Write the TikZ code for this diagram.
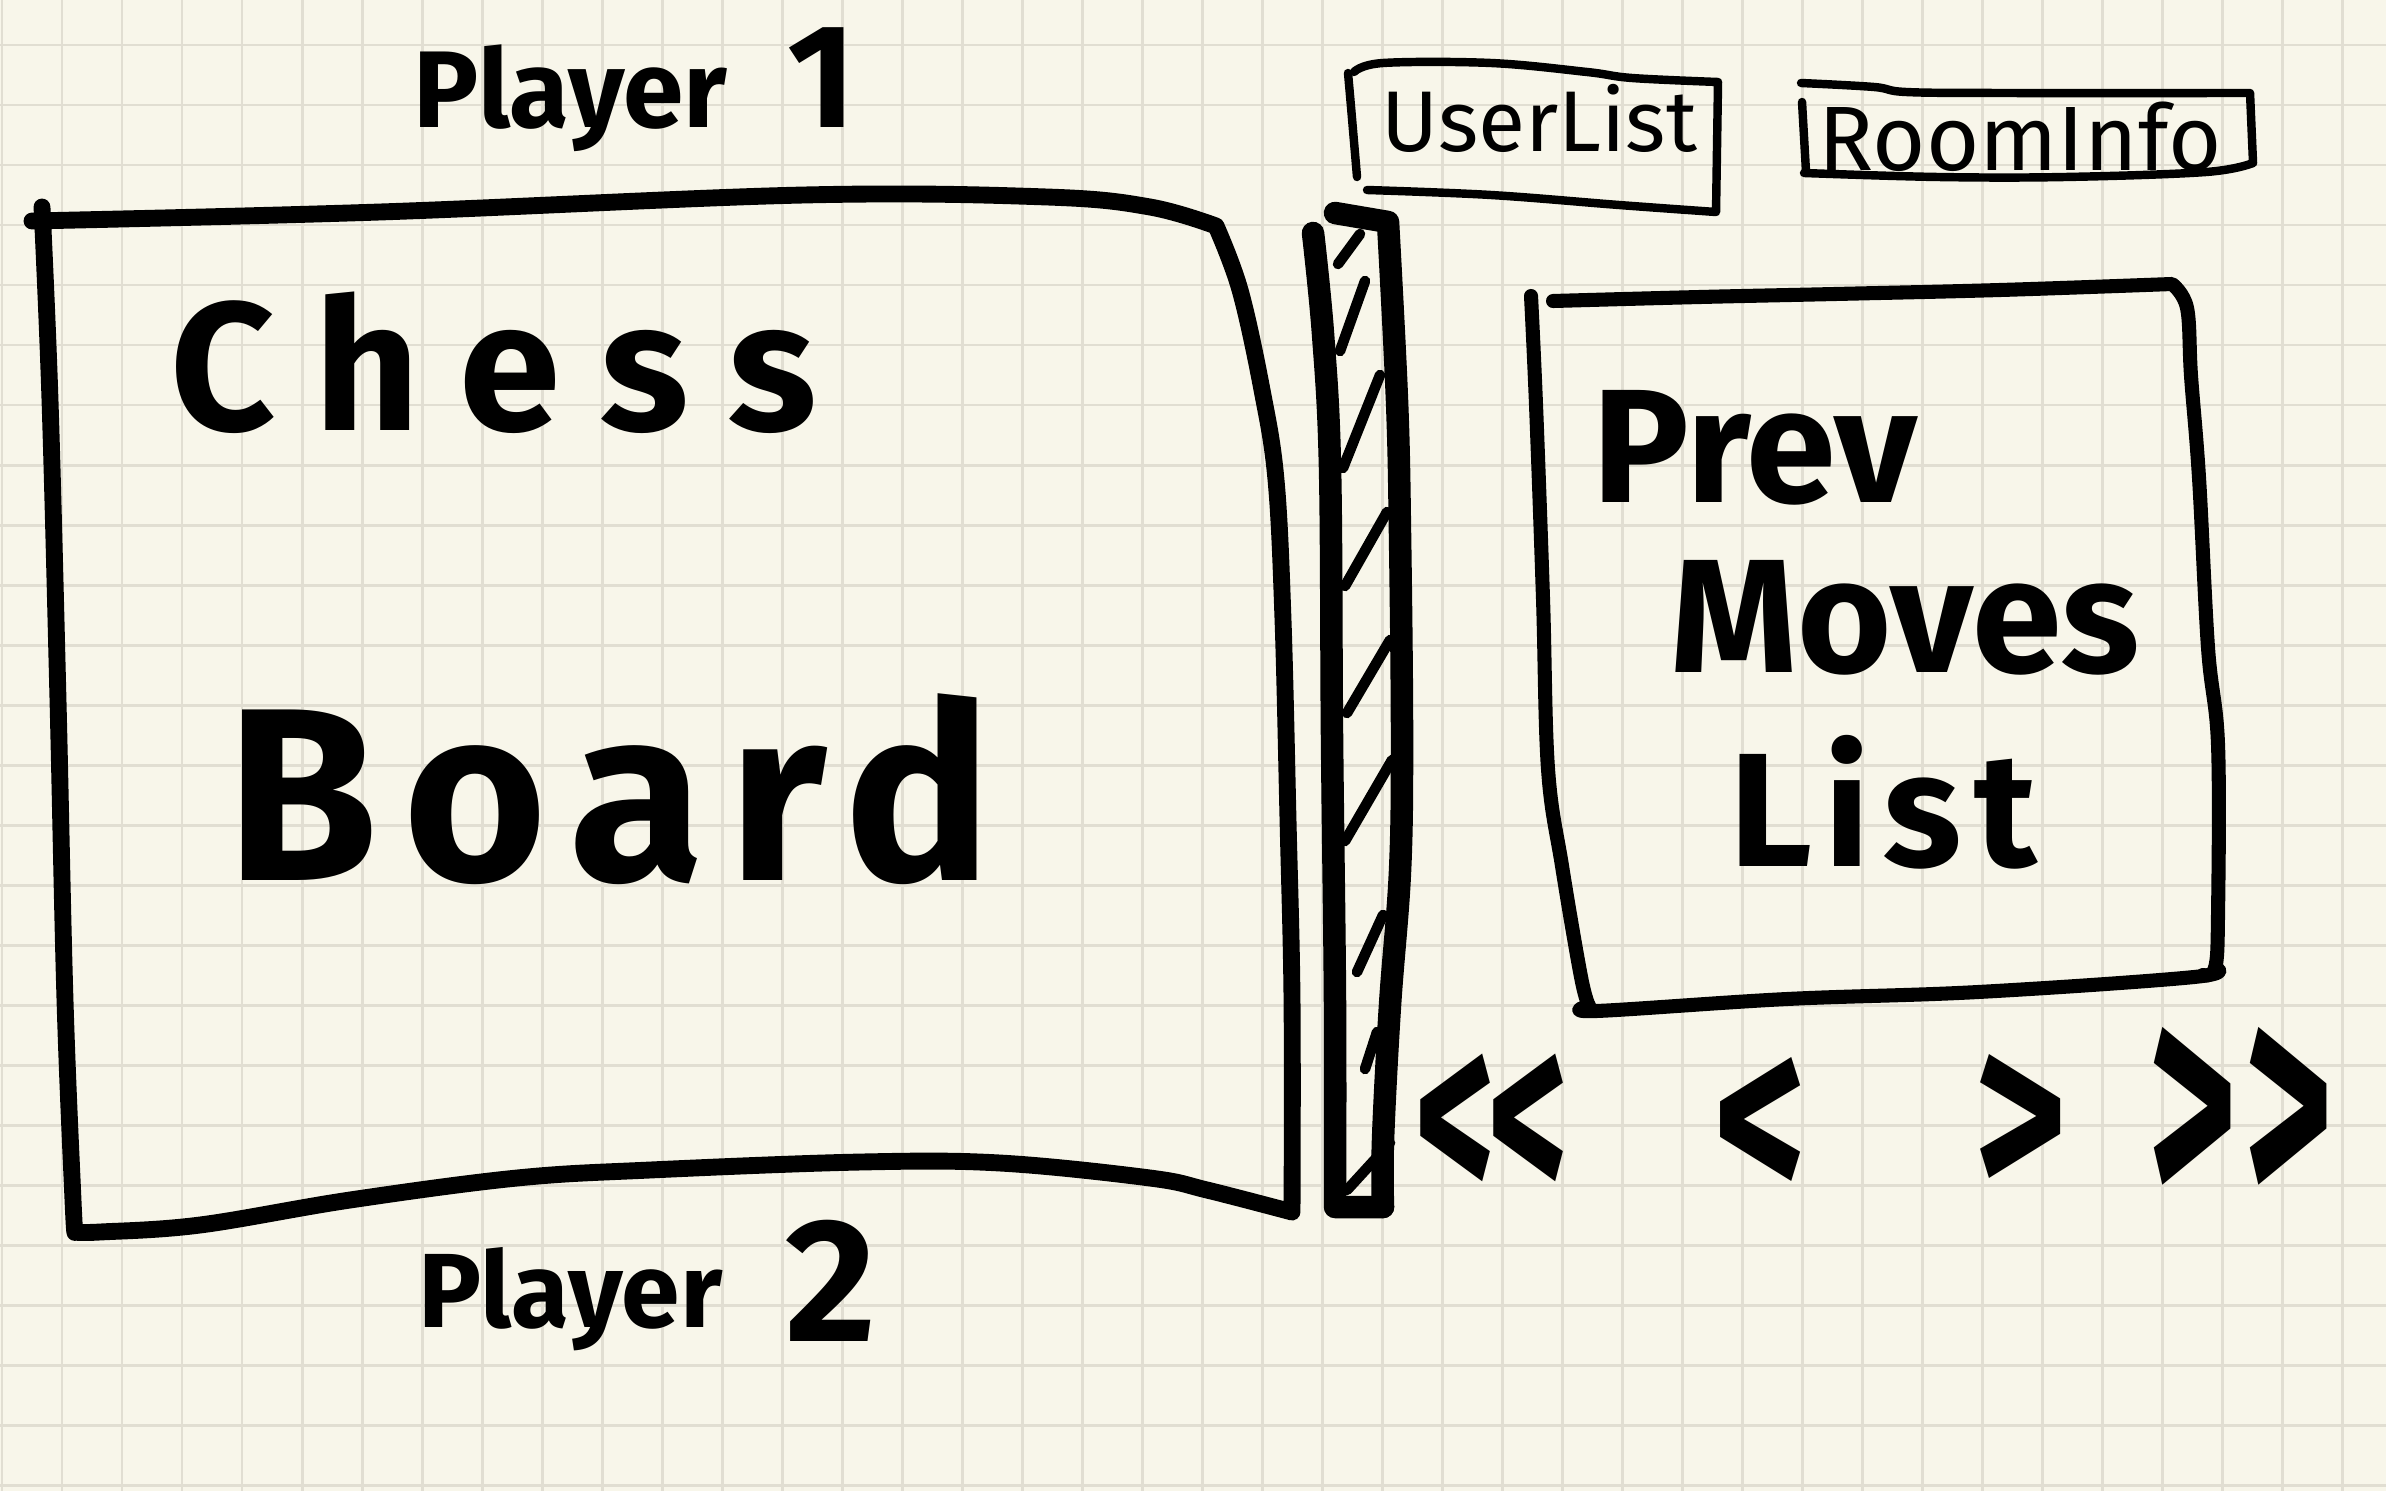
\documentclass[tikz,border=0pt]{standalone}
\usepackage{fontspec}
\usepackage{graphicx}
\setmainfont{Fira Sans}
\definecolor{paper}{RGB}{248,246,234}
\definecolor{gridcolor}{RGB}{225,222,210}
\tikzset{
  gridrule/.style={draw=gridcolor, line width=0.85pt},
  marker/.style={draw=black, line width=4.8pt, line cap=round, line join=round},
  thinmarker/.style={draw=black, line width=2.4pt, line cap=round, line join=round},
  barline/.style={draw=black, line width=6.4pt, line cap=round, line join=round},
  hatch/.style={draw=black, line width=3pt, line cap=round},
  hand/.style={inner sep=0pt, anchor=base west, text=black},
  navbutton/.style={inner sep=0pt, anchor=center, text=black,
    font=\bfseries\fontsize{44}{44}\selectfont}
}
\begin{document}
\begin{tikzpicture}[x=0.01cm, y=-0.01cm]
% Paper and its grid, one cell is 60 units
\useasboundingbox (0,0) rectangle (2386,1491);
\fill[paper] (0,0) rectangle (2386,1491);
\foreach \gx in {2,62,...,2342} \draw[gridrule] (\gx,0) -- (\gx,1491);
\foreach \gy in {45,105,...,1485} \draw[gridrule] (0,\gy) -- (2386,\gy);

% Chess board frame
\draw[marker] plot[smooth, tension=0.6] coordinates {(32,221) (380,212) (804,195) (1047,197) (1150,207) (1216,226)}
  -- plot[smooth, tension=0.6] coordinates {(1216,226) (1240,290) (1262,390) (1276,480) (1283,620) (1288,820) (1292,1000) (1292,1212)}
  -- plot[smooth, tension=0.6] coordinates {(1292,1212) (1207,1190) (1150,1178) (1000,1163) (861,1162) (650,1170) (517,1178) (350,1200) (200,1225) (100,1232) (75,1232)}
  -- plot[smooth, tension=0.6] coordinates {(75,1232) (73,1200) (65,1000) (58,700) (50,400) (42,207)};
\node[hand, font=\bfseries\fontsize{31}{31}\selectfont] (player1) at (413,127) {Player\hspace{17pt}{\fontsize{42}{42}\selectfont 1}};
\node[hand, font=\bfseries\fontsize{30}{30}\selectfont] (player2) at (418,1327) {Player\hspace{18pt}\raisebox{-4pt}{\fontsize{50}{50}\selectfont 2}};
\node[hand, font=\bfseries\fontsize{52}{52}\selectfont\addfontfeatures{LetterSpace=22}] (chess) at (170,430) {Chess};
\node[hand, font=\bfseries\fontsize{70}{70}\selectfont\addfontfeatures{LetterSpace=10}] (board) at (226,880) {Board};

% Scroll bar with its hatching
\draw[barline] plot[smooth, tension=0.6] coordinates {(1313,233) (1323,334) (1330,468) (1332,737) (1335,1005) (1335,1207)}
  -- (1383,1207);
\draw[barline] (1335,213) -- plot[smooth, tension=0.6] coordinates {(1388,222) (1397,401) (1400,535) (1402,737) (1400,871) (1390,1005) (1383,1140) (1383,1207)};
\draw[hatch] (1338,264) -- (1360,234);
\draw[hatch] (1340,351) -- (1365,281);
\draw[hatch] (1343,468) -- (1380,375);
\draw[hatch] (1345,586) -- (1387,512);
\draw[hatch] (1347,713) -- (1390,640);
\draw[hatch] (1345,841) -- (1392,760);
\draw[hatch] (1357,972) -- (1383,915);
\draw[hatch] (1365,1069) -- (1377,1032);
\draw[hatch] (1347,1190) -- (1390,1143);

% User list and room info tabs
\draw[thinmarker] plot[smooth, tension=0.6] coordinates {(1354,72) (1383,63) (1491,63) (1587,72) (1632,78) (1718,82)}
  -- (1716,212)
  -- plot[smooth, tension=0.6] coordinates {(1716,212) (1619,205) (1491,195) (1367,190)};
\draw[thinmarker] plot[smooth] coordinates {(1348,73) (1351,107) (1357,177)};
\node[hand, font=\fontsize{24.5}{25}\selectfont] (userlist) at (1381,152) {UserList};
\draw[thinmarker] plot[smooth, tension=0.6] coordinates {(1801,83) (1874,87) (1906,92) (2002,93) (2250,93)}
  -- (2253,163)
  -- plot[smooth, tension=0.6] coordinates {(2253,163) (2206,172) (2065,177) (1938,177) (1804,173)};
\draw[thinmarker] (1802,102) -- (1806,172);
\node[hand, font=\fontsize{26}{26}\selectfont] (roominfo) at (1818,170) {RoomInfo};

% Previous moves list
\draw[marker, line width=4pt] plot[smooth, tension=0.6] coordinates {(1553,301) (1700,297) (1835,294) (2000,290) (2172,284)}
  -- plot[smooth, tension=0.6] coordinates {(2172,284) (2187,308) (2191,376) (2199,478) (2208,648) (2218,745) (2218,914) (2215,968) (2203,975)};
\draw[marker, line width=4pt] plot[smooth, tension=0.6] coordinates {(2215,968) (2194,977) (1978,992) (1787,999) (1596,1011) (1589,1006)};
\draw[marker, line width=4pt] plot[smooth, tension=0.6] coordinates {(1531,296) (1536,405) (1543,599) (1548,769) (1562,866) (1581,977) (1589,1006)};
\node[hand, anchor=base, font=\bfseries\fontsize{46}{46}\selectfont] (prev) at (1755,502) {Prev};
\node[hand, anchor=base, font=\bfseries\fontsize{46}{46}\selectfont] (moves) at (1905,672) {Moves};
\node[hand, anchor=base, font=\bfseries\fontsize{46}{46}\selectfont\addfontfeatures{LetterSpace=8}] (list) at (1883,866) {List};

% Navigation buttons
\node[navbutton] (first) at (1492,1130) {\scalebox{1}[1.7]{<\kern-2pt<}};
\node[navbutton] (back) at (1761,1131) {\scalebox{1.15}[1.65]{<}};
\node[navbutton] (forward) at (2021,1128) {\scalebox{1.15}[1.65]{>}};
\node[navbutton] (last) at (2241,1121) {\scalebox{1.1}[2.1]{>\kern2pt>}};
\end{tikzpicture}
\end{document}
